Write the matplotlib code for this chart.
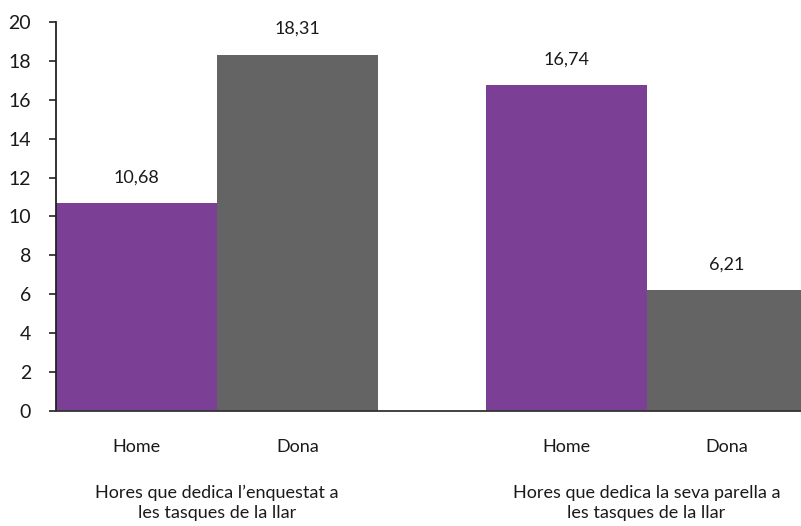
import matplotlib
matplotlib.use("Agg")
import matplotlib.pyplot as plt

categories = ["Home", "Dona", "Home", "Dona"]
values = [10.68, 18.31, 16.74, 6.21]
labels = ["10,68", "18,31", "16,74", "6,21"]
groups = ["Hores que dedica l’enquestat a\nles tasques de la llar",
          "Hores que dedica la seva parella a\nles tasques de la llar"]
colors = ["#7B3F95", "#646464", "#7B3F95", "#646464"]
yticks = list(range(0, 21, 2))

plt.rcParams['font.family'] = ['Lato', 'DejaVu Sans']

fig = plt.figure(figsize=(8.01, 5.26), dpi=100)
ax = fig.add_axes([56/801, 1-411/526, (801-56)/801, (411-22)/526])

positions = [0.5, 1.5, 3.17, 4.17]
ax.bar(positions, values, width=1.0, color=colors, linewidth=0)
for p, v, l in zip(positions, values, labels):
    ax.annotate(l, (p, v), xytext=(0, 13), textcoords="offset points",
                ha="center", va="bottom", fontsize=13, color="#1a1a1a")

ax.set_xlim(0, 4.63)
ax.set_ylim(0, 20)
ax.set_yticks(yticks)
ax.set_yticklabels([str(t) for t in yticks], fontsize=14, color="#1a1a1a")
ax.set_xticks(positions)
ax.set_xticklabels(categories, fontsize=13, color="#1a1a1a")
ax.tick_params(axis="x", length=0, pad=20)
ax.tick_params(axis="y", length=5, width=1.2, color="#222222", pad=13)
for s in ["top", "right"]:
    ax.spines[s].set_visible(False)
ax.spines["left"].set_color("#222222")
ax.spines["bottom"].set_color("#333333")
ax.spines["left"].set_linewidth(1.3)
ax.spines["bottom"].set_linewidth(1.3)

for gx, g in zip([1.0, 3.67], groups):
    ax.annotate(g, (gx, 0), xycoords=("data", "axes fraction"),
                xytext=(0, -53), textcoords="offset points",
                ha="center", va="top", fontsize=13, color="#1a1a1a",
                linespacing=1.3)

fig.savefig("out.png", dpi=100)
